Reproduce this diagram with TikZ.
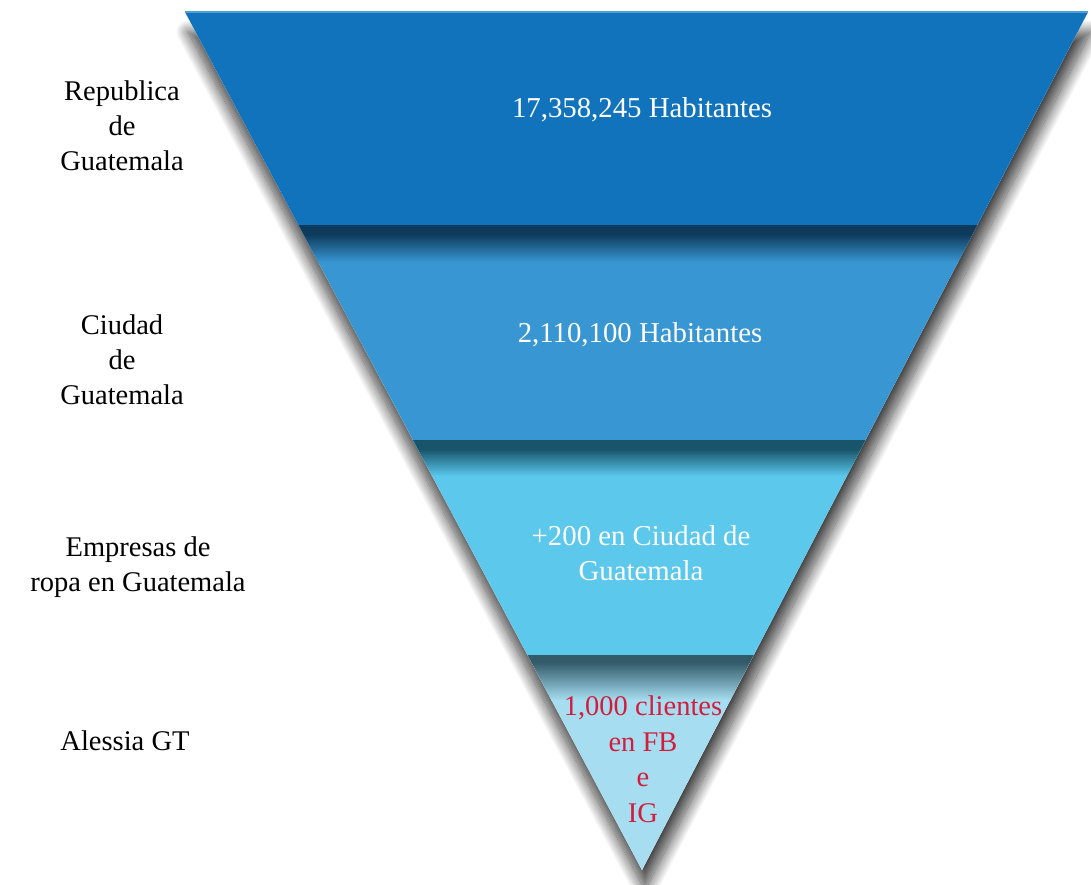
\documentclass[tikz,border=0pt]{standalone}
\usepackage{fontspec}
\setmainfont{Liberation Serif}
\usetikzlibrary{shadows.blur}
\definecolor{bandA}{RGB}{17,115,188}
\definecolor{bandB}{RGB}{56,150,210}
\definecolor{bandC}{RGB}{91,200,236}
\definecolor{bandD}{RGB}{166,221,240}
\definecolor{darkB}{RGB}{14,58,92}
\definecolor{darkC}{RGB}{24,84,106}
\definecolor{darkD}{RGB}{50,90,105}
\definecolor{topline}{RGB}{80,160,215}
\definecolor{redtext}{RGB}{210,30,60}
\tikzset{
  lbl/.style={align=center, inner sep=0pt, font=\fontsize{28.5}{35}\selectfont, text=black},
  bandtxt/.style={align=center, inner sep=0pt, font=\fontsize{28.8}{35}\selectfont, text=white},
  redtxt/.style={align=center, inner sep=0pt, font=\fontsize{28.5}{35.5}\selectfont, text=redtext}
}
\begin{document}
\begin{tikzpicture}[x=1pt,y=-1pt]
\useasboundingbox (0,0) rectangle (1091,884);
\coordinate (TL) at (185,12);
\coordinate (TR) at (1088,12);
\coordinate (AP) at (642,870);
\coordinate (L1) at (298.4,225);
\coordinate (R1) at (977.3,225);
\coordinate (L2) at (413,440);
\coordinate (R2) at (865.5,440);
\coordinate (L3) at (527.5,655);
\coordinate (R3) at (753.8,655);
% drop shadow
\fill[white, blur shadow={shadow xshift=3pt, shadow yshift=-20pt, shadow blur radius=12pt, shadow blur steps=20, shadow opacity=75}] (TL) -- (TR) -- (AP) -- cycle;
% bands
\fill[bandA] (TL) -- (TR) -- (R1) -- (L1) -- cycle;
\fill[bandB] (L1) -- (R1) -- (R2) -- (L2) -- cycle;
\fill[bandC] (L2) -- (R2) -- (R3) -- (L3) -- cycle;
\fill[bandD] (L3) -- (R3) -- (AP) -- cycle;
% inner shadows at the top of bands
\begin{scope}
\clip (TL) -- (TR) -- (AP) -- cycle;
\fill[darkB] (0,225) rectangle (1091,234);
\shade[top color=darkB, bottom color=bandB] (0,234) rectangle (1091,262);
\fill[darkC] (0,440) rectangle (1091,449);
\shade[top color=darkC, bottom color=bandC] (0,449) rectangle (1091,476);
\fill[darkD] (0,655) rectangle (1091,662);
\shade[top color=darkD, bottom color=bandD] (0,662) rectangle (1091,700);
\end{scope}
\draw[topline, line width=1.5pt] (TL) -- (TR);
% texts in the bands
\node[bandtxt] (t1) at (642,110) {17,358,245 Habitantes};
\node[bandtxt] (t2) at (640,335) {2,110,100 Habitantes};
\node[bandtxt] (t3) at (641,553) {+200 en Ciudad de\\Guatemala};
\node[redtxt] (t4) at (643,759) {1,000 clientes\\en FB\\e\\IG};
% labels on the left
\node[lbl] (l1) at (122,126) {Republica\\de\\Guatemala};
\node[lbl] (l2) at (122,360) {Ciudad\\de\\Guatemala};
\node[lbl] (l3) at (138,567) {Empresas de\\ropa en Guatemala};
\node[lbl] (l4) at (125,741) {Alessia GT};
\end{tikzpicture}
\end{document}
